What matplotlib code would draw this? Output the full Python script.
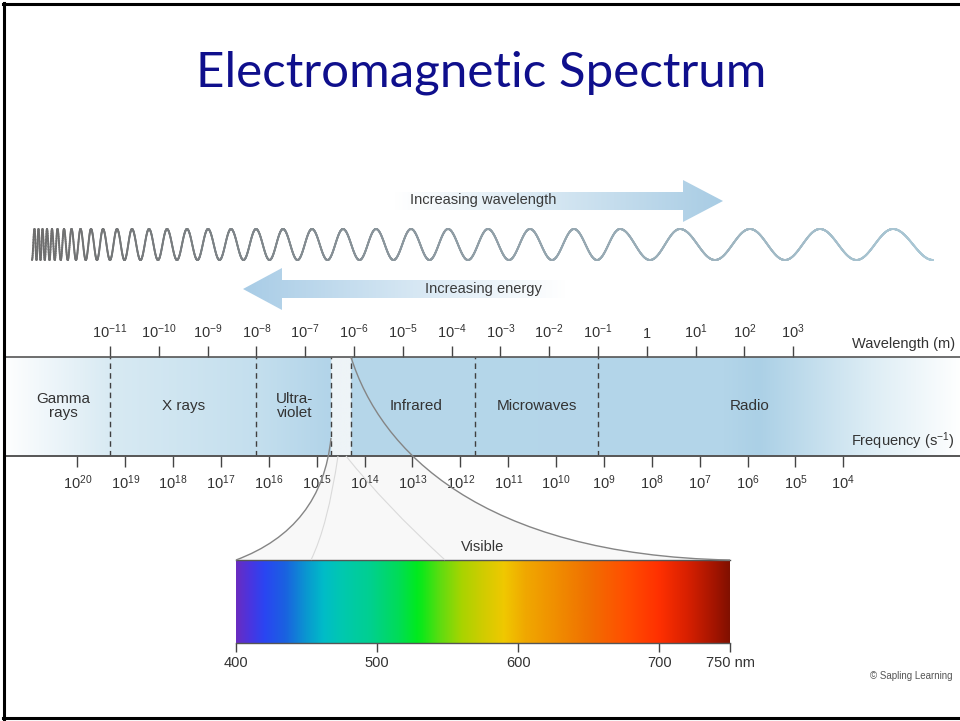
"""Electromagnetic spectrum diagram."""

import matplotlib
import numpy as np

matplotlib.use("Agg")
import matplotlib.pyplot as plt
from matplotlib.collections import LineCollection
from matplotlib.colors import to_rgb
from matplotlib.patches import PathPatch, Polygon, Rectangle
from matplotlib.path import Path

W, H = 960, 721

plt.rcParams["font.family"] = "Liberation Sans"
plt.rcParams["mathtext.fontset"] = "custom"
plt.rcParams["mathtext.rm"] = "Liberation Sans"
plt.rcParams["mathtext.it"] = "Liberation Sans:italic"
plt.rcParams["mathtext.bf"] = "Liberation Sans:bold"

# wavelength scale (powers of ten, metres) on top of the band
WAVE_EXP = list(range(-11, 4))
WAVE_LABELS = ["1" if e == 0 else r"$10^{%d}$" % e for e in WAVE_EXP]

# frequency scale (powers of ten, s^-1) under the band
FREQ_EXP = list(range(20, 3, -1))
FREQ_LABELS = [r"$10^{%d}$" % f for f in FREQ_EXP]

# regions of the spectrum, positions in wavelength exponents
REGIONS = ["Gamma\nrays", "X rays", "Ultra-\nviolet", "Infrared", "Microwaves", "Radio"]
REGION_CENTERS = [-11.95, -9.5, -7.22, -4.72, -2.25, 2.1]
REGION_BOUNDS = [-11, -8, -6.47, -6.06, -3.52, -1]

# band shading along the wavelength exponent
BAND_STOPS = [-13.2, -11.0, -8.0, -6.48, -6.46, -6.07, -6.05, 1.6, 2.3, 4.6, 6.45]
BAND_COLORS = ["#ffffff", "#d8eaf3", "#c4dfee", "#b2d4e9", "#eef4f7", "#eef4f7",
               "#b6d7ea", "#b3d5e9", "#abd0e6", "#ddedf5", "#ffffff"]

# visible part, nm
VIS_TICKS = [400, 500, 600, 700, 750]
VIS_LABELS = ["400", "500", "600", "700", "750 nm"]
VIS_NM = [400, 410, 420, 435, 450, 462, 475, 495, 515, 528, 532, 545, 560, 575,
          590, 605, 625, 650, 675, 700, 720, 740, 750]
VIS_COLORS = ["#6a2cc0", "#4a35e0", "#2a45f2", "#1a62e0", "#0a98d0", "#00bcc8",
              "#00c8b0", "#00d090", "#00dc58", "#00ea20", "#10e818", "#60dc10",
              "#a8d400", "#d0cc00", "#f0c800", "#f0a800", "#f09000", "#f07000",
              "#ff5000", "#ff3000", "#d82000", "#a01400", "#801000"]

# crest positions of the drawn wave (pixels)
WAVE_PEAKS = [34.5, 38.5, 42.5, 47, 52, 57.5, 64, 71.5, 80.5, 91, 103, 117, 132,
              149, 167, 187, 208, 231, 256, 283, 312, 343, 376, 411, 448, 488,
              530, 574, 620, 680, 750, 820, 893]

# pixel calibration of the band scale
WL_PX0, WL_DECADE = 110.0, 48.8          # 10^-11 m tick, px per decade
FQ_SLOPE, FQ_OFFSET = -0.981, 7.951      # wavelength exp = offset + slope * freq exp


def px_rect(x, y, w, h):
    return [x / W, 1 - (y + h) / H, w / W, h / H]


def gradient(stops, colors, samples):
    rgb = np.array([to_rgb(c) for c in colors])
    return np.stack([np.interp(samples, stops, rgb[:, k]) for k in range(3)], axis=-1)


def wave_to_freq(e):
    return (np.asarray(e) - FQ_OFFSET) / FQ_SLOPE


def freq_to_wave(f):
    return FQ_OFFSET + FQ_SLOPE * np.asarray(f)


def pixel_axes(z):
    a = fig.add_axes([0, 0, 1, 1])
    a.set_zorder(z)
    a.patch.set_alpha(0)
    a.axis("off")
    return a


fig = plt.figure(figsize=(W / 100, H / 100), dpi=100)
back = pixel_axes(1)

# ---- band with both scales ----
band_top, band_h = 356.7, 98.8
ax_band = fig.add_axes(px_rect(5, band_top, 955, band_h))
ax_band.set_zorder(2)
x_lo = -11 + (5 - WL_PX0) / WL_DECADE
x_hi = -11 + (960 - WL_PX0) / WL_DECADE
samples = np.linspace(x_lo, x_hi, 2000)
ax_band.imshow(gradient(BAND_STOPS, BAND_COLORS, samples)[None, :, :],
               extent=(x_lo, x_hi, 0, 1), aspect="auto")
for b in REGION_BOUNDS:
    ax_band.axvline(b, color="#404040", lw=1.0, ls=(0, (4, 3)))
for name, c in zip(REGIONS, REGION_CENTERS):
    ax_band.text(c, 0.5, name, ha="center", va="center", fontsize=11,
                 color="#333333", linespacing=1.05)
ax_band.set_xlim(x_lo, x_hi)
ax_band.set_ylim(0, 1)
ax_band.set_yticks([])
ax_band.xaxis.tick_top()
ax_band.set_xticks(WAVE_EXP, WAVE_LABELS)
ax_band.tick_params(axis="x", direction="out", length=8, width=1, color="#444444",
                    pad=3, labelsize=10.5, labelcolor="#333333")
for side in ("left", "right"):
    ax_band.spines[side].set_visible(False)
for side in ("top", "bottom"):
    ax_band.spines[side].set_color("#555555")
    ax_band.spines[side].set_linewidth(1.2)

sec = ax_band.secondary_xaxis("bottom", functions=(wave_to_freq, freq_to_wave))
sec.set_xticks(FREQ_EXP, FREQ_LABELS)
sec.tick_params(direction="out", length=8, width=1, color="#444444", pad=5,
                labelsize=10.5, labelcolor="#333333")
sec.spines["bottom"].set_color("#555555")
sec.spines["bottom"].set_linewidth(1.2)

# ---- visible spectrum ----
ax_vis = fig.add_axes(px_rect(236, 560, 494, 83))
ax_vis.set_zorder(2)
nm = np.linspace(400, 750, 1200)
ax_vis.imshow(gradient(VIS_NM, VIS_COLORS, nm)[None, :, :],
              extent=(400, 750, 0, 1), aspect="auto")
ax_vis.set_xlim(400, 750)
ax_vis.set_ylim(0, 1)
ax_vis.set_yticks([])
ax_vis.set_xticks(VIS_TICKS, VIS_LABELS)
ax_vis.tick_params(axis="x", direction="out", length=6.5, width=1, color="#444444",
                   pad=3, labelsize=10.5, labelcolor="#333333")
for side in ("left", "right"):
    ax_vis.spines[side].set_visible(False)
for side in ("top", "bottom"):
    ax_vis.spines[side].set_color("#555555")
    ax_vis.spines[side].set_linewidth(1.0)

# ---- overlay in pixel space ----
ax = pixel_axes(3)

# funnel from the visible gap down to the spectrum bar
M, C3, C4, L, CL = Path.MOVETO, Path.CURVE3, Path.CURVE4, Path.LINETO, Path.CLOSEPOLY
left_pts = [(331, 438), (322, 528), (236, 560)]
right_pts = [(351, 357), (380, 450), (480, 555), (730, 560)]
fill_path = Path(left_pts + [(730, 560)] + right_pts[::-1][1:] + [(331, 438)],
                 [M, C3, C3, L, C4, C4, C4, CL])
fill = PathPatch(fill_path, facecolor="#f8f8f8", edgecolor="none")
back.add_patch(fill)
fill.set_clip_path(Rectangle((0, band_top + band_h), W, 560 - band_top - band_h,
                             transform=back.transData))
ax.add_patch(PathPatch(Path([(338, 456), (328, 525), (311, 560)], [M, C3, C3]),
                       facecolor="none", edgecolor="#dadada", lw=0.8))
ax.add_patch(PathPatch(Path([(346, 456), (385, 505), (445, 560)], [M, C3, C3]),
                       facecolor="none", edgecolor="#dadada", lw=0.8))
ax.add_patch(PathPatch(Path(left_pts, [M, C3, C3]), facecolor="none",
                       edgecolor="#858585", lw=1.0))
ax.add_patch(PathPatch(Path(right_pts, [M, C4, C4, C4]), facecolor="none",
                       edgecolor="#858585", lw=1.0))
ax.text(483, 547, "Visible", ha="center", va="center", fontsize=10.5, color="#333333")

# chirped wave
xs = np.linspace(32, 933, 6000)
peak_x = [32] + WAVE_PEAKS + [933]
peak_phase = np.concatenate([[-np.pi], 2 * np.pi * np.arange(len(WAVE_PEAKS)),
                             [2 * np.pi * (len(WAVE_PEAKS) - 1) + np.pi]])
phase = np.interp(xs, peak_x, peak_phase)
ys = 244.5 - 15.5 * np.cos(phase)
pts = np.column_stack([xs, ys]).reshape(-1, 1, 2)
segs = np.concatenate([pts[:-1], pts[1:]], axis=1)
wave_cols = gradient([32, 450, 933], ["#6e6e6e", "#8f9ca4", "#aac8d6"], xs[:-1])
ax.add_collection(LineCollection(segs, colors=wave_cols, linewidths=1.4,
                                 capstyle="round"))


def gradient_arrow(poly, x0, x1, y0, y1, c0, c1):
    patch = Polygon(poly, closed=True, facecolor="none", edgecolor="none")
    ax.add_patch(patch)
    gx = np.linspace(x0, x1, 400)
    img = gradient([x0, x1], [c0, c1], gx)[None, :, :]
    im = ax.imshow(img, extent=(x0, x1, y1, y0), aspect="auto")
    im.set_clip_path(patch)


gradient_arrow([(395, 192), (683, 192), (683, 180), (723, 201), (683, 222),
                (683, 210), (395, 210)], 395, 723, 180, 222, "#ffffff", "#a8cce4")
ax.text(483, 200, "Increasing wavelength", ha="center", va="center",
        fontsize=10.5, color="#3a3a3a")
gradient_arrow([(243, 289), (282, 268), (282, 280), (565, 280), (565, 298),
                (282, 298), (282, 310)], 243, 565, 268, 310, "#a8cce6", "#ffffff")
ax.text(483, 289, "Increasing energy", ha="center", va="center",
        fontsize=10.5, color="#3a3a3a")

ax.text(955, 344, "Wavelength (m)", ha="right", va="center", fontsize=10.5,
        color="#333333")
ax.text(955, 441, r"Frequency (s$^{-1}$)", ha="right", va="center",
        fontsize=10.5, color="#333333")

ax.text(481, 73, "Electromagnetic Spectrum", ha="center", va="center",
        fontsize=35.5, family="Lato", color="#0f0f8c")
ax.text(953, 676, "\u00a9 Sapling Learning", ha="right", va="center",
        fontsize=7, color="#555555")

# slide frame
ax.plot([4, 4], [3, 719], color="black", lw=2.2)
ax.plot([3, W], [4, 4], color="black", lw=2.2)
ax.plot([3, W], [718, 718], color="black", lw=2.2)

for a in (back, ax):
    a.set_xlim(0, W)
    a.set_ylim(H, 0)

fig.savefig("out.png", dpi=100)
plt.close(fig)
